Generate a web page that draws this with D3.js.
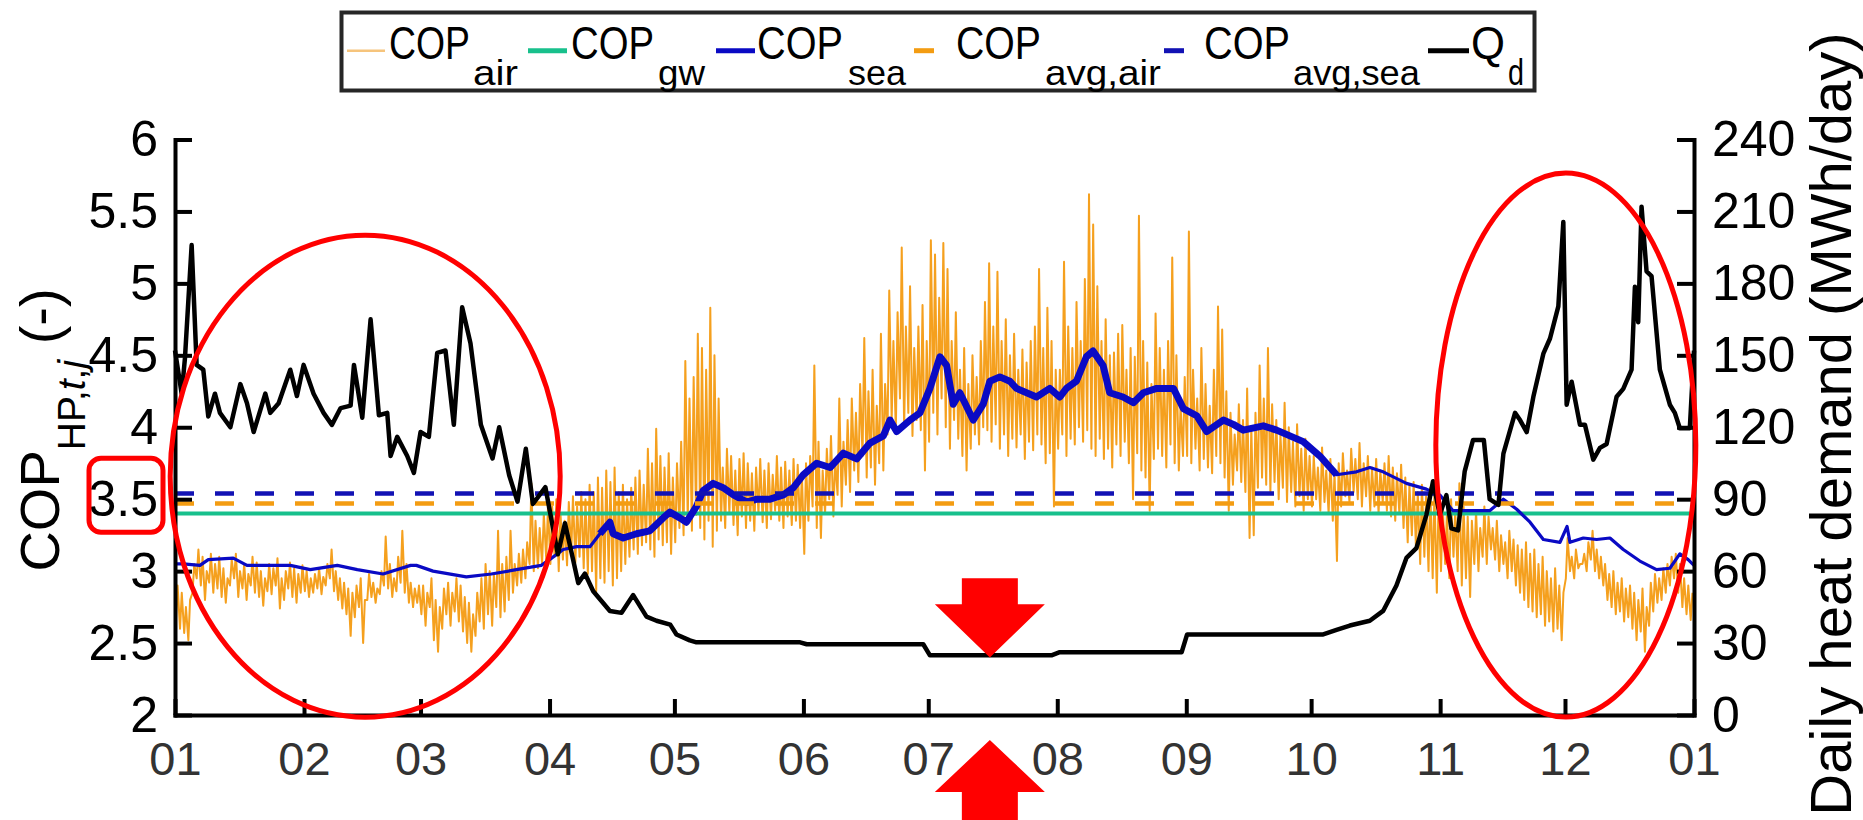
<!DOCTYPE html>
<html>
<head>
<meta charset="utf-8">
<script src="https://cdn.jsdelivr.net/npm/d3@7"></script>
<style>
  html, body { margin: 0; padding: 0; background: #fff; }
  svg { display: block; font-family: "Liberation Sans", Arial, Helvetica, sans-serif; }
  text { white-space: pre; }
</style>
</head>
<body>
<script>
// ---------------- data ----------------
const monthLabels = ["01","02","03","04","05","06","07","08","09","10","11","12","01"];
const copTicks = [2, 2.5, 3, 3.5, 4, 4.5, 5, 5.5, 6];
const demandTicks = [0, 30, 60, 90, 120, 150, 180, 210, 240];

// constant / annual-average COP levels
const copGw = 3.40;
const copAvgAir = 3.47;
const copAvgSea = 3.54;

// air-source COP: daily afternoon highs and night lows, one row per month
const airHigh = [
  [2.90,2.85,2.75,2.80,3.05,3.15,3.10,3.00,3.12,3.05,3.10,3.02,2.95,3.08,3.12,3.00,3.05,2.98,3.10,3.06,3.00,2.95,3.05,3.02,3.09,2.95,3.00,3.06,3.02,2.98,3.04],
  [3.00,2.95,2.98,3.02,2.96,3.05,3.15,3.00,2.95,2.92,2.88,2.85,2.90,2.95,2.80,2.98,2.92,2.88,3.00,3.24,3.05,2.95,3.10,3.28,3.05,2.92,2.88,2.90],
  [2.90,2.85,2.95,2.80,2.75,2.88,2.92,2.85,2.95,2.90,2.82,2.78,2.70,2.85,2.95,3.05,3.00,2.98,3.28,3.05,3.10,3.28,3.05,3.12,3.15,3.20,3.61,3.35,3.30,3.40,3.45],
  [3.45,3.50,3.40,3.35,3.48,3.52,3.45,3.55,3.50,3.60,3.55,3.65,3.58,3.70,3.62,3.72,3.55,3.60,3.50,3.58,3.65,3.70,3.60,3.85,3.75,3.99,3.80,3.72,3.82,3.65],
  [3.75,3.90,4.46,4.20,4.35,4.65,4.55,4.40,4.83,4.50,4.20,3.72,3.85,3.80,3.70,3.78,3.82,3.75,3.68,3.72,3.78,3.70,3.75,3.67,3.80,3.72,3.76,3.70,3.78,3.74,3.68],
  [3.75,3.80,4.43,3.90,3.70,3.85,3.94,3.78,4.20,3.90,4.05,4.20,4.10,4.30,4.62,4.25,4.40,4.15,4.65,4.30,4.95,4.60,4.80,5.25,4.70,4.98,4.55,4.70,4.85,4.60],
  [5.30,5.20,4.90,5.28,5.10,4.60,4.80,4.40,4.55,4.30,4.50,4.35,4.60,4.87,5.14,4.70,5.08,4.60,4.75,4.50,4.65,4.40,4.54,4.45,4.60,4.70,5.10,4.55,4.83,4.60,4.40],
  [4.40,5.15,4.70,4.55,4.87,4.60,5.03,5.62,5.41,4.98,4.60,4.75,4.50,4.52,4.65,4.71,4.40,4.55,4.49,5.47,4.60,4.45,4.30,4.79,4.55,4.40,4.60,5.18,4.50,4.15,4.35],
  [5.36,4.40,4.20,4.55,4.30,4.15,4.40,4.84,4.68,4.25,4.10,3.95,4.16,4.05,4.27,4.00,4.10,4.43,4.20,4.55,4.16,4.05,3.95,4.17,4.00,3.90,4.02,3.85,3.92,3.80],
  [3.80,3.72,3.86,3.70,3.78,3.68,3.75,3.82,3.70,3.85,3.78,3.89,3.75,3.80,3.72,3.78,3.70,3.75,3.80,3.72,3.68,3.74,3.65,3.60,3.62,3.55,3.60,3.52,3.58,3.55,3.50],
  [3.45,3.40,3.50,3.42,3.61,3.45,3.38,3.35,3.42,3.30,3.45,3.38,3.30,3.35,3.25,3.20,3.28,3.22,3.18,3.15,3.20,3.12,3.15,3.05,3.10,3.00,2.95,3.02,2.90,2.85],
  [3.23,3.10,3.15,3.05,3.12,3.20,3.28,3.15,3.10,3.05,2.98,3.00,2.92,2.95,2.88,2.90,2.85,2.80,2.88,2.75,2.92,2.98,2.95,3.02,3.05,3.10,3.12,3.05,2.95,2.90,2.85]
];
const airLow = [
  [2.65,2.60,2.57,2.52,2.85,2.95,2.90,2.80,2.92,2.85,2.88,2.82,2.78,2.90,2.95,2.82,2.88,2.80,2.90,2.85,2.82,2.76,2.86,2.84,2.90,2.74,2.80,2.88,2.82,2.78,2.85],
  [2.86,2.82,2.85,2.88,2.84,2.90,2.95,2.86,2.80,2.74,2.70,2.55,2.68,2.75,2.50,2.80,2.82,2.78,2.84,2.90,2.88,2.82,2.86,2.92,2.85,2.78,2.75,2.78],
  [2.70,2.62,2.75,2.52,2.44,2.60,2.70,2.62,2.72,2.65,2.58,2.50,2.44,2.55,2.65,2.60,2.70,2.62,2.75,2.68,2.72,2.80,2.85,2.90,2.92,2.95,3.05,3.00,3.02,3.05,3.08],
  [3.05,3.10,3.00,3.08,3.04,3.12,3.06,3.10,3.02,2.98,3.00,2.86,2.95,2.92,3.00,2.90,2.95,3.00,3.05,3.10,3.15,3.12,3.18,3.20,3.15,3.10,3.22,3.18,3.20,3.12],
  [3.20,3.30,3.25,3.35,3.28,3.39,3.30,3.22,3.35,3.17,3.28,3.35,3.30,3.40,3.32,3.25,3.38,3.30,3.35,3.28,3.40,3.34,3.30,3.36,3.42,3.35,3.30,3.38,3.32,3.35,3.30],
  [3.12,3.35,3.45,3.30,3.23,3.40,3.50,3.38,3.53,3.45,3.60,3.55,3.70,3.62,3.80,3.65,3.72,3.60,3.75,3.70,3.95,4.05,3.98,4.20,4.00,4.10,3.94,4.05,3.98,3.70],
  [3.90,4.10,3.95,4.20,4.00,3.85,4.05,3.92,3.80,3.70,3.85,3.95,3.88,4.00,3.98,3.90,4.02,3.85,3.95,3.80,3.92,3.86,3.95,3.78,3.90,3.84,3.95,3.88,3.75,3.82,3.45],
  [3.85,3.95,3.80,3.92,3.88,4.00,3.90,3.98,3.85,3.80,3.92,3.78,3.85,3.72,3.88,3.80,3.90,3.75,3.50,3.82,3.70,3.65,3.42,3.78,3.85,3.80,3.72,3.88,3.75,3.70,3.80],
  [3.80,3.75,3.85,3.70,3.78,3.72,3.68,3.80,3.75,3.65,3.42,3.60,3.70,3.62,3.55,3.23,3.25,3.58,3.65,3.60,3.55,3.62,3.50,3.58,3.48,3.55,3.45,3.52,3.42,3.50],
  [3.45,3.50,3.42,3.48,3.40,3.35,3.07,3.45,3.52,3.48,3.55,3.50,3.45,3.52,3.42,3.45,3.40,3.48,3.42,3.38,3.35,3.40,3.30,3.20,3.25,3.15,3.05,3.10,3.00,2.95,2.85],
  [3.00,3.05,2.95,3.10,3.00,2.90,2.95,2.82,3.05,3.00,3.10,3.05,3.15,3.08,3.00,3.05,2.95,3.00,2.90,2.85,2.80,2.75,2.72,2.68,2.70,2.62,2.65,2.58,2.60,2.52],
  [2.95,3.00,2.95,3.02,3.05,3.00,3.08,3.00,2.95,2.90,2.80,2.75,2.70,2.72,2.65,2.68,2.60,2.52,2.58,2.44,2.62,2.72,2.78,2.80,2.85,2.90,2.95,2.85,2.75,2.70,2.66]
];

// sea-water COP (day of year, value)
const seaDays = [0,2,6,8,14,17.3,22,27.7,32.5,39,
  43.8,50,56.6,58,62,70,76,82,88,90,
  93.3,96.5,99.7,102.1,104.5,105.3,107.7,110.9,114.1,117.3,
  118.9,121.3,122.9,125.3,126.9,129.3,131.7,134.2,137.4,139.8,
  143,146.2,148.6,151,154.2,157.4,160.6,163.8,167,170.2,
  171.8,173.4,176.6,179,181.4,183.8,185.4,187,188.6,191.8,
  194.2,195.8,198.2,200.6,202.2,207,210.2,212.6,214.2,216.6,
  219,220.6,223,224.6,227.8,230.3,232.7,235.9,239.9,242.3,
  245.5,247.9,251.9,254.3,256.7,261.5,264.7,267.9,271.1,275.1,
  279.1,283.9,287.1,290.3,295.9,300.7,303.9,307.1,311.1,315.9,
  319.2,322.4,325.6,328.8,332.8,334.5,335.2,338.4,341.6,344.8,
  348,352,356,359.2,361.6,363.6,365];
const seaVals = [3.05,3.05,3.04,3.08,3.09,3.04,3.04,3.04,3.01,3.04,
  3.01,2.98,3.04,3.04,3.00,2.96,2.98,3.01,3.04,3.08,
  3.15,3.17,3.17,3.26,3.34,3.26,3.23,3.26,3.28,3.37,
  3.41,3.37,3.34,3.45,3.56,3.61,3.58,3.53,3.48,3.50,
  3.50,3.53,3.58,3.67,3.75,3.72,3.82,3.78,3.89,3.94,
  4.05,3.97,4.05,4.10,4.27,4.49,4.43,4.16,4.24,4.05,
  4.16,4.32,4.35,4.32,4.27,4.21,4.27,4.21,4.27,4.32,
  4.49,4.53,4.43,4.24,4.21,4.17,4.24,4.27,4.27,4.13,
  4.08,3.97,4.05,4.02,3.98,4.01,3.98,3.94,3.90,3.80,
  3.67,3.69,3.72,3.69,3.61,3.57,3.53,3.42,3.42,3.42,
  3.50,3.43,3.34,3.22,3.20,3.31,3.20,3.23,3.22,3.23,
  3.15,3.07,3.01,3.02,3.12,3.08,3.04];

// daily heat demand in MWh/day (day of year, value)
const demandDays = [0,1.6,2.4,4,5.2,6.8,8,9.6,10.8,13.3,
  15.7,17.3,18.9,21.7,22.9,24.9,27.7,29.3,30.9,33.3,
  35.7,37.7,39.8,42.2,43,45,47,49,51,51.8,
  53.4,55.8,57.4,59,61,63,65,67,69,71,
  73.5,76.3,77.9,80.3,82.3,84.3,86,89,92,93.7,
  95,96.9,98.5,100.5,104.5,107.3,110.1,113.3,115.7,119,
  120.5,123.7,125.3,150.2,151.8,179.8,181.4,210.6,212.6,241.9,
  243.2,275.9,279.1,282.3,287.1,290.3,293.5,295.9,298.3,300.7,
  302.3,303.9,305.5,306.7,308.3,309.9,311.9,314.5,315.9,318,
  319.2,322,323.2,324.8,326.4,328.8,330.4,332.4,333.6,334.4,
  335.6,337.6,338.8,340.8,342.4,344,346.4,348,350,350.8,
  351.6,352.4,353.6,354.8,356.8,359.2,360.4,361.6,364,365];
const demandVals = [152,134,149,196,146,144,124.5,134,126,120,
  138,130,118,134,126,130,144,133,146,134,
  126,121,128,129,146,124,165,125,126,108,
  116,108,101,118,116,151,152,121,170,155,
  121,107,120,100,89,111,88,95,67,80,
  70,55,59,51.6,43.4,42.6,50,41,39.3,37.7,
  33.6,31.1,30.3,30.3,29.5,29.5,24.9,24.9,26.2,26.2,
  33.6,33.6,35.5,37.3,39.3,43.4,54,65.5,69.6,83.5,
  97.5,83.5,91.7,77.8,77,101.6,114.7,114.7,90,87.6,
  109,126,123,118,132.7,150.7,157,170.4,205.6,129.4,
  139,121,121,106.5,111.4,113,132.7,136,144,178.6,
  163.8,212,185,183,144,129.4,126,119.6,119.6,152];

// ---------------- layout ----------------
const W = 1863, H = 820;
const plot = { left: 175, right: 1694, top: 139.5, bottom: 715 };
const font = '"Liberation Sans", Arial, Helvetica, sans-serif';

const t0 = Date.UTC(2019, 0, 1);
const dayToDate = d => new Date(t0 + d * 864e5);

const x = d3.scaleUtc().domain([dayToDate(0), dayToDate(365)]).range([plot.left, plot.right]);
const yL = d3.scaleLinear().domain([2, 6]).range([plot.bottom, plot.top]);
const yR = d3.scaleLinear().domain([0, 240]).range([plot.bottom, plot.top]);

const svg = d3.select("body").append("svg").attr("width", W).attr("height", H);

const C = {
  air: "#f5a01e", airLegend: "#f6c47c", gw: "#18c08c", sea: "#0a0ac4",
  avgAir: "#f39c12", avgSea: "#1212b4", demand: "#000", red: "#ff0000"
};

// ---------------- series ----------------
const airPts = [];
airHigh.forEach((month, m) => {
  const start = d3.utcMonth.offset(dayToDate(0), m);
  month.forEach((hi, j) => {
    airPts.push([d3.utcHour.offset(start, j * 24 + 5), airLow[m][j]]);
    airPts.push([d3.utcHour.offset(start, j * 24 + 15), hi]);
  });
});

const lineCop = d3.line().x(d => x(d[0])).y(d => yL(d[1]));
const linesG = svg.append("g");

linesG.append("path").datum(airPts).attr("d", lineCop)
  .attr("fill", "none").attr("stroke", C.air).attr("stroke-width", 2).attr("stroke-linejoin", "round");

linesG.append("line")
  .attr("x1", plot.left).attr("x2", plot.right).attr("y1", yL(copGw)).attr("y2", yL(copGw))
  .attr("stroke", C.gw).attr("stroke-width", 4);

const seaPts = seaDays.map((d, i) => [dayToDate(d), seaVals[i]]);
linesG.append("path").datum(seaPts).attr("d", lineCop)
  .attr("fill", "none").attr("stroke", C.sea).attr("stroke-width", 3.2).attr("stroke-linejoin", "round");
// the warm-season part fluctuates hour to hour and reads as a thicker band
const seaWarm = seaDays.map((d, i) => [d, seaVals[i]]).filter(p => p[0] >= 100 && p[0] <= 280)
  .map(p => [dayToDate(p[0]), p[1]]);
linesG.append("path").datum(seaWarm).attr("d", lineCop)
  .attr("fill", "none").attr("stroke", C.sea).attr("stroke-width", 7).attr("stroke-linejoin", "round");

linesG.append("line")
  .attr("x1", plot.left).attr("x2", plot.right).attr("y1", yL(copAvgAir)).attr("y2", yL(copAvgAir))
  .attr("stroke", C.avgAir).attr("stroke-width", 4.5).attr("stroke-dasharray", "19,21");
linesG.append("line")
  .attr("x1", plot.left).attr("x2", plot.right).attr("y1", yL(copAvgSea)).attr("y2", yL(copAvgSea))
  .attr("stroke", C.avgSea).attr("stroke-width", 4.5).attr("stroke-dasharray", "19,21");

const demandPts = demandDays.map((d, i) => [dayToDate(d), demandVals[i]]);
linesG.append("path").datum(demandPts)
  .attr("d", d3.line().x(d => x(d[0])).y(d => yR(d[1])))
  .attr("fill", "none").attr("stroke", C.demand).attr("stroke-width", 4.5).attr("stroke-linejoin", "round");

// ---------------- axes ----------------
function styleAxis(g, fs, color) {
  g.select(".domain").attr("stroke", "#000").attr("stroke-width", 4).attr("stroke-linecap", "square");
  g.selectAll(".tick line").attr("stroke", "#000").attr("stroke-width", 4);
  g.selectAll(".tick text").attr("fill", color).style("font-size", fs + "px").style("font-family", font);
}

const axL = svg.append("g").attr("transform", `translate(${plot.left},0)`)
  .call(d3.axisLeft(yL).tickValues(copTicks).tickSizeInner(-17).tickSizeOuter(0).tickPadding(17).tickFormat(d => String(d)));
styleAxis(axL, 50, "#000");

const axR = svg.append("g").attr("transform", `translate(${plot.right},0)`)
  .call(d3.axisRight(yR).tickValues(demandTicks).tickSizeInner(-17).tickSizeOuter(0).tickPadding(18).tickFormat(d => String(d)));
styleAxis(axR, 50, "#000");

const monthDates = d3.utcMonths(dayToDate(0), dayToDate(366));
const axB = svg.append("g").attr("transform", `translate(0,${plot.bottom})`)
  .call(d3.axisBottom(x).tickValues(monthDates).tickSizeInner(-16).tickSizeOuter(0).tickPadding(27)
    .tickFormat((d, i) => monthLabels[i]));
styleAxis(axB, 47, "#333");

// axis titles
const yTitle = svg.append("text")
  .attr("transform", "translate(59,430) rotate(-90)")
  .attr("text-anchor", "middle").style("font-size", "56px").attr("fill", "#000");
yTitle.append("tspan").text("COP");
yTitle.append("tspan").attr("dy", 26).style("font-size", "39px").text("HP,");
yTitle.append("tspan").style("font-size", "39px").style("font-style", "italic").text("t");
yTitle.append("tspan").style("font-size", "39px").text(",");
yTitle.append("tspan").style("font-size", "39px").style("font-style", "italic").text("j");
yTitle.append("tspan").attr("dy", -26).text(" (-)");

svg.append("text")
  .attr("transform", "translate(1851,424) rotate(-90)")
  .attr("text-anchor", "middle").style("font-size", "58px").attr("fill", "#000")
  .text("Daily heat demand (MWh/day)");

// ---------------- legend ----------------
const legend = svg.append("g");
legend.append("rect").attr("x", 341.5).attr("y", 12.5).attr("width", 1193).attr("height", 78)
  .attr("fill", "#fff").attr("stroke", "#262626").attr("stroke-width", 4);

const legendItems = [
  { x: 347, len: 38, color: C.airLegend, w: 2.5, dash: null, main: "COP", tx: 389, mainW: 81, sub: "air", sx: 473, subW: 45 },
  { x: 528, len: 39, color: C.gw, w: 5, dash: null, main: "COP", tx: 571, mainW: 83, sub: "gw", sx: 658, subW: 47 },
  { x: 716, len: 39, color: C.sea, w: 5, dash: null, main: "COP", tx: 757, mainW: 86, sub: "sea", sx: 848, subW: 58 },
  { x: 914, len: 40, color: C.avgAir, w: 5, dash: "20,40", main: "COP", tx: 956, mainW: 85, sub: "avg,air", sx: 1045, subW: 116 },
  { x: 1164, len: 40, color: C.avgSea, w: 5, dash: "20,40", main: "COP", tx: 1204, mainW: 86, sub: "avg,sea", sx: 1293, subW: 127 },
  { x: 1428, len: 41, color: C.demand, w: 5, dash: null, main: "Q", tx: 1471, mainW: 34, sub: "d", sx: 1508, subW: 16 }
];
// glyphs are narrowed horizontally to the legend's condensed lettering
function condensed(sel, px, py, width) {
  const natural = sel.node().getComputedTextLength();
  sel.attr("transform", `translate(${px},${py}) scale(${width / natural},1)`);
}
legendItems.forEach(it => {
  legend.append("line").attr("x1", it.x).attr("x2", it.x + it.len).attr("y1", 50.7).attr("y2", 50.7)
    .attr("stroke", it.color).attr("stroke-width", it.w).attr("stroke-dasharray", it.dash);
  const main = legend.append("text").style("font-size", "46px").text(it.main);
  condensed(main, it.tx, 59, it.mainW);
  const sub = legend.append("text").style("font-size", "36px").text(it.sub);
  condensed(sub, it.sx, 85, it.subW);
});

// ---------------- highlights ----------------
const marks = svg.append("g").attr("fill", "none").attr("stroke", C.red).attr("stroke-width", 5);
// winter periods
marks.append("ellipse").attr("cx", x(dayToDate(45.7))).attr("cy", yL(3.66)).attr("rx", 195).attr("ry", 241);
marks.append("ellipse").attr("cx", x(dayToDate(334.2))).attr("cy", yL(3.876)).attr("rx", 130).attr("ry", 272);
// the 3.5 tick label
marks.append("rect").attr("x", 89).attr("y", yL(3.5) - 41).attr("width", 74).attr("height", 74).attr("rx", 12);

// summer demand minimum arrows
const ax = x(dayToDate(195.8));
const shaft = 28, head = 55;
function arrowPath(tipY, baseY, endY) {
  return `M${ax - shaft},${endY}H${ax + shaft}V${baseY}H${ax + head}L${ax},${tipY}L${ax - head},${baseY}H${ax - shaft}Z`;
}
svg.append("path").attr("d", arrowPath(yL(2.4), yL(2.77), yL(2.95))).attr("fill", C.red);
svg.append("path").attr("d", arrowPath(yL(1.826), yL(1.465), 840)).attr("fill", C.red);
</script>
</body>
</html>
